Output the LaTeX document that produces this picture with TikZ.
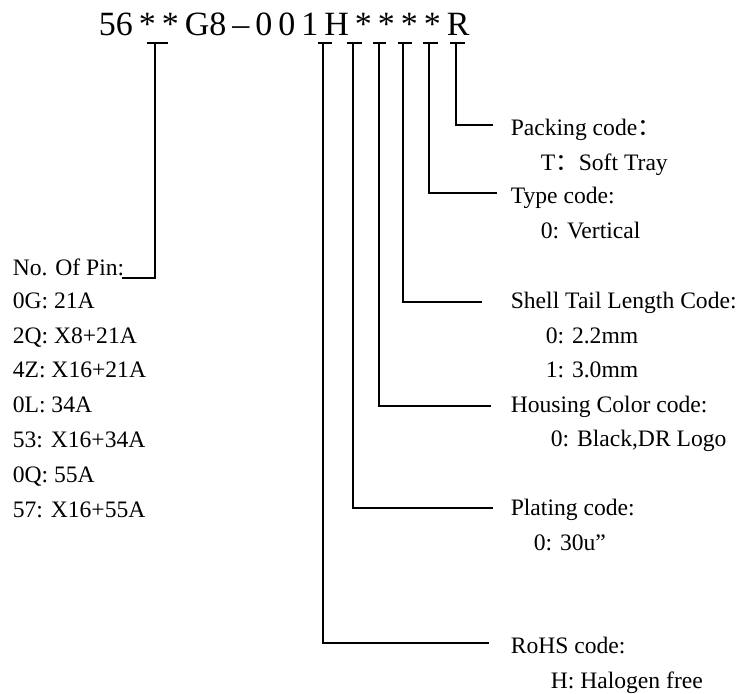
\documentclass[tikz,border=0pt]{standalone}
\usepackage{fontspec}
\setmainfont{Liberation Serif}
\newfontfamily\cjkfont{Noto Sans CJK SC}

\begin{document}
\begin{tikzpicture}[x=1pt,y=-1pt,line width=1.6pt,
        txt/.style={anchor=base west,inner sep=0pt,font=\fontsize{23.6}{28}\selectfont},
        partno/.style={anchor=base west,inner sep=0pt,font=\fontsize{34}{40}\selectfont}]
                \useasboundingbox (0,0) rectangle (746,693);

                \node[partno] (code) at (98,36) {\spaceskip=6pt\relax 56 * * G8 – 0 0 1 H * * * * R};

                \coordinate (pinTop) at (155,43);
                \coordinate (rohsTop) at (323,43);
                \coordinate (platTop) at (353,43);
                \coordinate (houseTop) at (379,43);
                \coordinate (tailTop) at (403,43);
                \coordinate (typeTop) at (429,43);
                \coordinate (packTop) at (456,43);

                \draw (147,43) -- (168,43);
                \draw (318,43) -- (332,43);
                \draw (347,43) -- (362,43);
                \draw (373,43) -- (386,43);
                \draw (398,43) -- (412,43);
                \draw (423,43) -- (438,43);
                \draw (450,43) -- (465,43);

                \node[txt] (pin) at (12,275) {No. Of Pin:};
                \node[txt] (pin1) at (12,308) {0G: 21A};
                \node[txt] (pin2) at (12,343) {2Q: X8+21A};
                \node[txt] (pin3) at (12,377) {4Z: X16+21A};
                \node[txt] (pin4) at (12,412) {0L: 34A};
                \node[txt] (pin5) at (12,447) {53: X16+34A};
                \node[txt] (pin6) at (12,482) {0Q: 55A};
                \node[txt] (pin7) at (12,517) {57: X16+55A};

                \node[txt] (pack) at (510,135) {Packing code{\cjkfont ：}};
                \node[txt] (pack1) at (540,170) {T{\cjkfont ：}Soft Tray};
                \node[txt] (type) at (510,203) {Type code:};
                \node[txt] (type1) at (540,238) {0: Vertical};
                \node[txt] (tail) at (510,308) {Shell Tail Length Code:};
                \node[txt] (tail1) at (545,343) {0: 2.2mm};
                \node[txt] (tail2) at (545,377) {1: 3.0mm};
                \node[txt] (house) at (510,412) {Housing Color code:};
                \node[txt] (house1) at (550,446) {0: Black,DR Logo};
                \node[txt] (plat) at (510,515) {Plating code:};
                \node[txt] (plat1) at (533,550) {0: 30u”};
                \node[txt] (rohs) at (510,653) {RoHS code:};
                \node[txt] (rohs1) at (550,688) {H: Halogen free};

                \coordinate (pinEnd) at (122,278);
                \coordinate (packEnd) at (493,125);
                \coordinate (typeEnd) at (497,193);
                \coordinate (tailEnd) at (482,302);
                \coordinate (houseEnd) at (491,406);
                \coordinate (platEnd) at (493,508);
                \coordinate (rohsEnd) at (489,643);

                \draw (pinTop) |- (pinEnd);
                \draw (packTop) |- (packEnd);
                \draw (typeTop) |- (typeEnd);
                \draw (tailTop) |- (tailEnd);
                \draw (houseTop) |- (houseEnd);
                \draw (platTop) |- (platEnd);
                \draw (rohsTop) |- (rohsEnd);
\end{tikzpicture}
\end{document}
